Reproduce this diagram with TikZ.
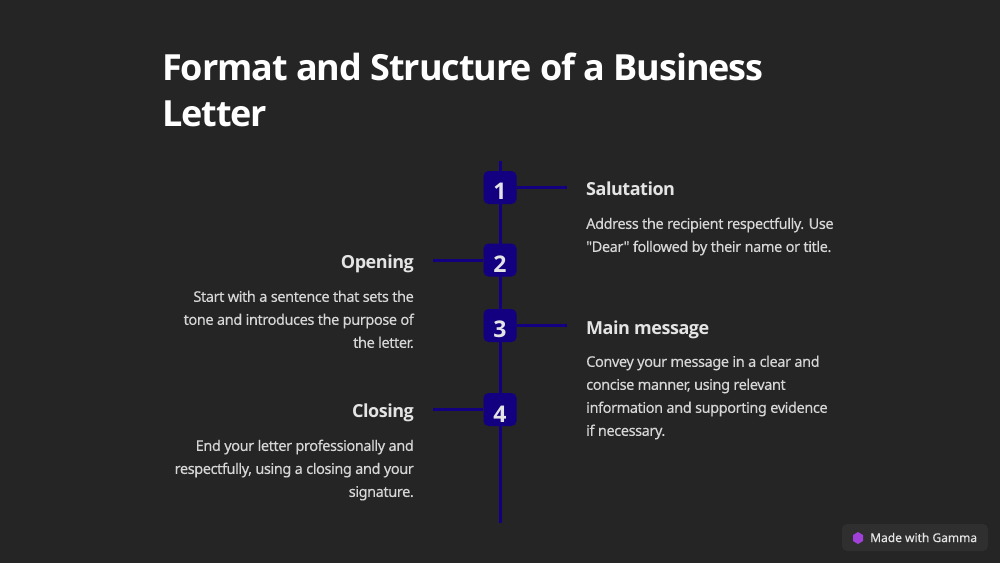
\documentclass[tikz,border=0pt]{standalone}
\usepackage{fontspec}
\setmainfont{Noto Sans}
\newfontfamily\bodyfont{Noto Sans}[LetterSpace=-3.1,FakeBold=0.15]
\newfontfamily\heavy{Open Sans}[LetterSpace=-2.6]
\newfontfamily\titlefont{Open Sans}[LetterSpace=-3.0]
\newfontfamily\badgefont{Noto Sans}[FakeBold=0.5]
\definecolor{bg}{HTML}{252525}
\definecolor{navy}{HTML}{130080}
\definecolor{bodyc}{HTML}{D6D6D6}
\definecolor{headc}{HTML}{E4E4E4}
\definecolor{badge}{HTML}{2F2F2F}
\definecolor{gem}{HTML}{A040D8}
\tikzset{
 line/.style={draw=navy,line width=3pt},
 num/.style={fill=navy,rounded corners=5pt,minimum size=33pt,inner sep=0pt},
 numtxt/.style={text=headc,inner sep=0pt,font=\heavy\fontsize{23}{23}\selectfont\bfseries},
 headl/.style={anchor=base west,inner sep=0pt,text=headc,font=\heavy\fontsize{18}{18}\selectfont\bfseries},
 headr/.style={anchor=base east,inner sep=0pt,text=headc,font=\heavy\fontsize{18}{18}\selectfont\bfseries},
 bodyl/.style={anchor=north west,inner sep=0pt,align=left,text=bodyc,font=\bodyfont\fontsize{14.6}{23}\selectfont},
 bodyr/.style={anchor=north east,inner sep=0pt,align=right,text=bodyc,font=\bodyfont\fontsize{14.6}{23}\selectfont},
 titlet/.style={anchor=base west,inner sep=0pt,text=white,font=\titlefont\fontsize{36}{46}\selectfont\bfseries},
}
\begin{document}
\begin{tikzpicture}[x=1pt,y=-1pt]
\useasboundingbox (0,0) rectangle (1000,563);
\fill[bg] (0,0) rectangle (1000,563);
\node[titlet] (title) at (162,80.5) {Format and Structure of a Business};
\node[titlet] (title2) at (162,126.5) {Letter};
\coordinate (top) at (500,161);
\coordinate (bot) at (500,523);
\coordinate (e1) at (567,187);
\coordinate (e2) at (433,260);
\coordinate (e3) at (567,325);
\coordinate (e4) at (433,409);
\draw[line] (top) -- (bot);
\node[num] (n1) at (500,187.5) {};
\node[num] (n2) at (500,260) {};
\node[num] (n3) at (500,325.5) {};
\node[num] (n4) at (500,409.5) {};
\node[numtxt] (t1) at (500,191.5) {1};
\node[numtxt] (t2) at (500,264.5) {2};
\node[numtxt] (t3) at (500,329.5) {3};
\node[numtxt] (t4) at (500,414) {4};
\draw[line] (n1.east |- e1) -- (e1);
\draw[line] (n2.west |- e2) -- (e2);
\draw[line] (n3.east |- e3) -- (e3);
\draw[line] (n4.west |- e4) -- (e4);
\node[headl] (h1) at (586,195.5) {Salutation};
\node[bodyl] (b1) at (586,217.5) {Address the recipient respectfully. Use\\\symbol{34}Dear\symbol{34} followed by their name or title.};
\node[headr] (h2) at (414,268.5) {Opening};
\node[bodyr] (b2) at (414,290.5) {Start with a sentence that sets the\\tone and introduces the purpose of\\the letter.};
\node[headl] (h3) at (586,334.5) {Main message};
\node[bodyl] (b3) at (586,355.5) {Convey your message in a clear and\\concise manner, using relevant\\information and supporting evidence\\if necessary.};
\node[headr] (h4) at (414,417.5) {Closing};
\node[bodyr] (b4) at (414,439.5) {End your letter professionally and\\respectfully, using a closing and your\\signature.};
\fill[badge,rounded corners=5pt] (842,524) rectangle (988,551);
\fill[gem] (858,532) -- (863,535) -- (863,541) -- (858,544) -- (853,541) -- (853,535) -- cycle;
\node[anchor=base west,inner sep=0pt,text=headc,font=\badgefont\fontsize{12}{12}\selectfont] (g) at (870,542) {Made with Gamma};
\end{tikzpicture}
\end{document}
